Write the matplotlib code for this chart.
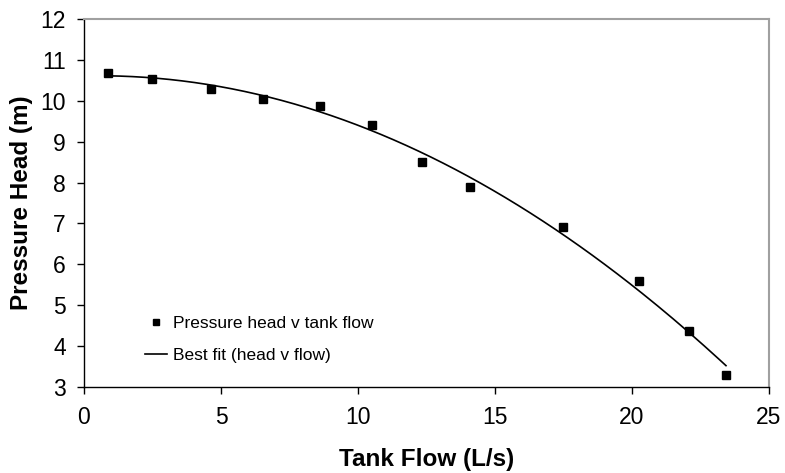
import numpy as np
import matplotlib
matplotlib.use("Agg")
import matplotlib.pyplot as plt

plt.rcParams['font.family'] = ['Liberation Sans', 'DejaVu Sans']

flow = [0.86, 2.47, 4.63, 6.54, 8.61, 10.52, 12.35, 14.09, 17.47, 20.26, 22.09, 23.43]
head = [10.69, 10.54, 10.30, 10.05, 9.88, 9.41, 8.51, 7.90, 6.91, 5.59, 4.38, 3.30]

x_ticks = [0, 5, 10, 15, 20, 25]
y_ticks = [3, 4, 5, 6, 7, 8, 9, 10, 11, 12]

fig = plt.figure(figsize=(7.85, 4.73), dpi=100)
ax = fig.add_axes([84/785, 1 - 387/473, (769-84)/785, (387-19)/473])

coef = np.polyfit(flow, head, 2)
xf = np.linspace(min(flow), max(flow), 200)
yf = np.polyval(coef, xf)

ax.plot(flow, head, 's', color='black', markersize=6, label='Pressure head v tank flow', zorder=3)
ax.plot(xf, yf, '-', color='black', linewidth=1.2, label='Best fit (head v flow)')

ax.set_xlim(0, 25)
ax.set_ylim(3, 12)
ax.set_xticks(x_ticks)
ax.set_yticks(y_ticks)
ax.tick_params(direction='out', length=5, width=1, labelsize=16.5, colors='black')
ax.tick_params(axis='x', pad=9)
ax.tick_params(axis='y', pad=8)

for s in ['left', 'bottom']:
    ax.spines[s].set_color('black')
    ax.spines[s].set_linewidth(1)
for s in ['top', 'right']:
    ax.spines[s].set_color('#a0a0a0')
    ax.spines[s].set_linewidth(1.5)

ax.set_xlabel('Tank Flow (L/s)', fontsize=17.5, fontweight='bold', labelpad=13)
ax.set_ylabel('Pressure Head (m)', fontsize=17.5, fontweight='bold', labelpad=5)

leg = ax.legend(loc='upper left', bbox_to_anchor=(0.076, 0.218), frameon=False,
                fontsize=12.5, handlelength=1.3, handletextpad=0.3, labelspacing=1.0,
                borderpad=0, markerscale=0.8)

fig.savefig('out.png', dpi=100)
